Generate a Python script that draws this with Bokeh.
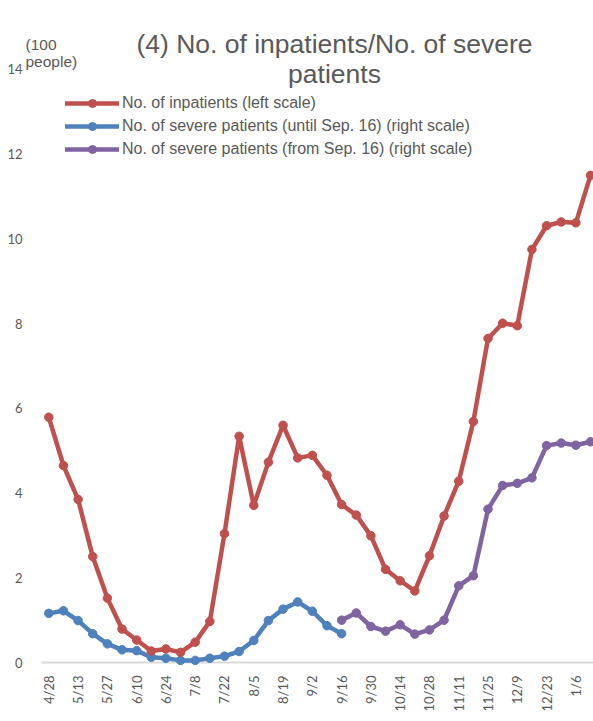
import math
from bokeh.plotting import figure
from bokeh.models import (Range1d, FixedTicker, Label, Legend, LegendItem)
from bokeh.embed import file_html
from bokeh.resources import INLINE

# ---- data ----
dates = ["4/28", "5/6", "5/13", "5/20", "5/27", "6/3", "6/10", "6/17", "6/24", "7/1",
         "7/8", "7/15", "7/22", "7/29", "8/5", "8/12", "8/19", "8/26", "9/2", "9/9",
         "9/16", "9/23", "9/30", "10/7", "10/14", "10/21", "10/28", "11/4", "11/11", "11/18",
         "11/25", "12/2", "12/9", "12/16", "12/23", "12/30", "1/6", "1/13"]

inpatients = [5.79, 4.65, 3.85, 2.50, 1.52, 0.79, 0.53, 0.27, 0.32, 0.24,
              0.48, 0.97, 3.04, 5.34, 3.71, 4.73, 5.60, 4.83, 4.89, 4.42,
              3.73, 3.48, 2.99, 2.20, 1.93, 1.69, 2.52, 3.46, 4.28, 5.69,
              7.65, 8.01, 7.95, 9.75, 10.31, 10.40, 10.38, 11.50]

severe_until = [1.16, 1.22, 0.99, 0.68, 0.44, 0.30, 0.28, 0.125, 0.10, 0.05,
                0.05, 0.10, 0.15, 0.26, 0.52, 0.99, 1.26, 1.43, 1.21, 0.87,
                0.68] + [None] * 17

severe_from = [None] * 20 + [1.00, 1.17, 0.85, 0.74, 0.89, 0.67, 0.77, 1.00, 1.81, 2.05,
                             3.62, 4.18, 4.23, 4.36, 5.12, 5.18, 5.13, 5.21]

y_ticks = [0, 2, 4, 6, 8, 10, 12, 14]
tick_idx = list(range(0, len(dates), 2))

title_lines = ["(4) No. of inpatients/No. of severe", "patients"]
unit_lines = ["(100", "people)"]
series_names = ["No. of inpatients (left scale)",
                "No. of severe patients (until Sep. 16) (right scale)",
                "No. of severe patients (from Sep. 16) (right scale)"]

RED, BLUE, PURPLE = "#C0504D", "#4F81BD", "#8064A2"
TXT = "#595959"


def nanify(v):
    return [float("nan") if a is None else a for a in v]


x = list(range(len(dates)))
X_LO, X_HI = -1.728, 37.205     # plot x extent (category-step units)
AXIS_START = -0.5               # where the zero baseline begins

p = figure(width=593, height=721, output_backend="svg", toolbar_location=None,
           x_range=Range1d(X_LO, X_HI), y_range=Range1d(-0.118, 15.628),
           min_border_left=23, min_border_right=0, min_border_top=0, min_border_bottom=54)
p.outline_line_color = None
p.background_fill_color = "white"
p.border_fill_color = "white"
p.xgrid.visible = False
p.ygrid.visible = False

# axes
for ax in (p.xaxis, p.yaxis):
    ax.axis_line_color = None
    ax.major_tick_line_color = None
    ax.minor_tick_line_color = None
    ax.major_tick_out = 0
    ax.major_tick_in = 0
    ax.minor_tick_out = 0
    ax.minor_tick_in = 0
    ax.major_label_text_font = "Lato"
    ax.major_label_text_font_size = "13px"
    ax.major_label_text_color = TXT

p.yaxis.ticker = FixedTicker(ticks=y_ticks)
p.yaxis.major_label_standoff = 1

p.xaxis.ticker = FixedTicker(ticks=tick_idx)
p.xaxis.major_label_overrides = {i: dates[i] for i in tick_idx}
p.xaxis.major_label_orientation = math.pi / 2
p.xaxis.major_label_standoff = 8

# zero baseline (category axis line)
p.segment(x0=[AXIS_START], y0=[0], x1=[X_HI], y1=[0], line_color="#D9D9D9", line_width=2)

renderers = []
for vals, col in [(severe_until, BLUE), (severe_from, PURPLE), (inpatients, RED)]:
    yv = nanify(vals)
    l = p.line(x, yv, line_color=col, line_width=4.5, line_join="round", line_cap="round")
    s = p.scatter(x, yv, size=8.5, fill_color=col, line_color=col)
    renderers.append((l, s))

items = [LegendItem(label=series_names[0], renderers=list(renderers[2])),
         LegendItem(label=series_names[1], renderers=list(renderers[0])),
         LegendItem(label=series_names[2], renderers=list(renderers[1]))]
legend = Legend(items=items, location=(42, 508), glyph_width=54, glyph_height=20,
                label_standoff=3, spacing=3, padding=0, margin=0,
                border_line_color=None, background_fill_alpha=0,
                label_text_font="Liberation Sans", label_text_font_size="16px",
                label_text_color=TXT)
p.add_layout(legend)

# title
for txt, yy in zip(title_lines, [624, 594]):
    p.add_layout(Label(x=311, y=yy, x_units="screen", y_units="screen", text=txt,
                       text_align="center", text_baseline="alphabetic",
                       text_font="Liberation Sans", text_font_size="26.5px", text_color=TXT))

# unit label
for txt, yy in zip(unit_lines, [623, 606]):
    p.add_layout(Label(x=2, y=yy, x_units="screen", y_units="screen", text=txt,
                       text_align="left", text_baseline="alphabetic",
                       text_font="Liberation Sans", text_font_size="15.5px", text_color=TXT))

open("out.html", "w").write(file_html(p, INLINE))
